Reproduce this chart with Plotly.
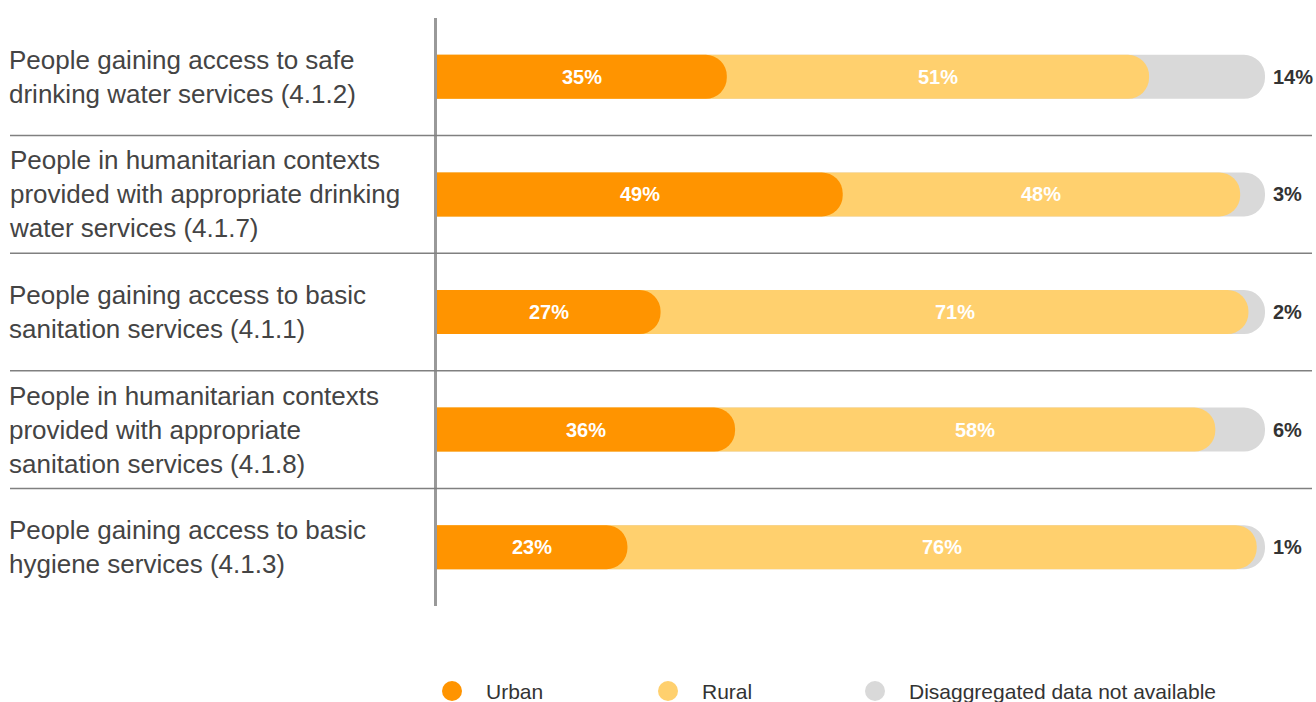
import plotly.graph_objects as go

categories = [
    "People gaining access to safe<br>drinking water services (4.1.2)",
    "People in humanitarian contexts<br>provided with appropriate drinking<br>water services (4.1.7)",
    "People gaining access to basic<br>sanitation services (4.1.1)",
    "People in humanitarian contexts<br>provided with appropriate<br>sanitation services (4.1.8)",
    "People gaining access to basic<br>hygiene services (4.1.3)",
]
urban = [35, 49, 27, 36, 23]
rural = [51, 48, 71, 58, 76]
not_available = [14, 3, 2, 6, 1]
legend_names = ["Urban", "Rural", "Disaggregated data not available"]

C_URBAN = "#FF9400"
C_RURAL = "#FFD06E"
C_NA = "#D9D9D9"
colors = [C_URBAN, C_RURAL, C_NA]

W, H = 1316, 702
ML, MR, MT, MB = 437, 51, 18, 96
PW = W - ML - MR
PH = H - MT - MB
FONT = "Liberation Sans, Arial, sans-serif"

urban_rural = [u + r for u, r in zip(urban, rural)]
total = [u + r + n for u, r, n in zip(urban, rural, not_available)]

fig = go.Figure()
bar_w = 0.374
# each layer on its own overlaying y axis so every bar gets its own rounded end
for vals, col, ax in [(total, C_NA, "y"), (urban_rural, C_RURAL, "y2"), (urban, C_URBAN, "y3")]:
    fig.add_trace(go.Bar(
        y=categories, x=vals, orientation="h", width=bar_w, yaxis=ax,
        marker=dict(color=col, cornerradius="50%", line=dict(width=0)),
        showlegend=False, hoverinfo="skip",
    ))

ann = []
lab_font = dict(family=FONT, size=20, color="white", weight="bold")
for i, cat in enumerate(categories):
    ann.append(dict(x=urban[i] / 2, y=cat, xref="x", yref="y", text=f"{urban[i]}%",
                    showarrow=False, font=lab_font, xanchor="center"))
    ann.append(dict(x=urban[i] + rural[i] / 2, y=cat, xref="x", yref="y", text=f"{rural[i]}%",
                    showarrow=False, font=lab_font, xanchor="center"))
    ann.append(dict(x=total[i], y=cat, xref="x", yref="y", text=f"{not_available[i]}%",
                    showarrow=False, xanchor="left", xshift=6,
                    font=dict(family=FONT, size=20, color="#333333", weight="bold")))
    ann.append(dict(x=(10 - ML) / PW, y=cat, xref="paper", yref="y", text=cat,
                    showarrow=False, xanchor="left", align="left", xshift=-3,
                    font=dict(family=FONT, size=26, color="#444444")))

shapes = []
for k in range(len(categories) - 1):
    shapes.append(dict(type="line", xref="paper", yref="y",
                       x0=(10 - ML) / PW, x1=(1312 - ML) / PW, y0=k + 0.5, y1=k + 0.5,
                       line=dict(color="#808080", width=1.5)))

# legend (circle markers + labels) below the plot
leg_x = [452, 668, 875]
leg_y = -85 / PH
for name, col, px in zip(legend_names, colors, leg_x):
    shapes.append(dict(type="circle", xref="paper", yref="paper",
                       xsizemode="pixel", ysizemode="pixel",
                       xanchor=(px - ML) / PW, yanchor=leg_y,
                       x0=-10, x1=10, y0=-10, y1=10,
                       fillcolor=col, line=dict(width=0)))
    ann.append(dict(x=(px + 32 - ML) / PW, y=leg_y, xref="paper", yref="paper",
                    text=name, showarrow=False, xanchor="left", yanchor="middle",
                    font=dict(family=FONT, size=21, color="#333333")))

yax = dict(showticklabels=False, showgrid=False, zeroline=False, ticks="",
           range=[4.5, -0.5], fixedrange=True)
fig.update_layout(
    width=W, height=H,
    margin=dict(l=ML, r=MR, t=MT, b=MB, autoexpand=False),
    barmode="overlay",
    plot_bgcolor="white", paper_bgcolor="white",
    xaxis=dict(range=[0, 100], visible=False, fixedrange=True),
    yaxis=dict(**yax, showline=True, linecolor="#999999", linewidth=3),
    yaxis2=dict(**yax, overlaying="y", matches="y", visible=False),
    yaxis3=dict(**yax, overlaying="y", matches="y", visible=False),
    annotations=ann,
    shapes=shapes,
    showlegend=False,
)

fig.write_html("out.html")
